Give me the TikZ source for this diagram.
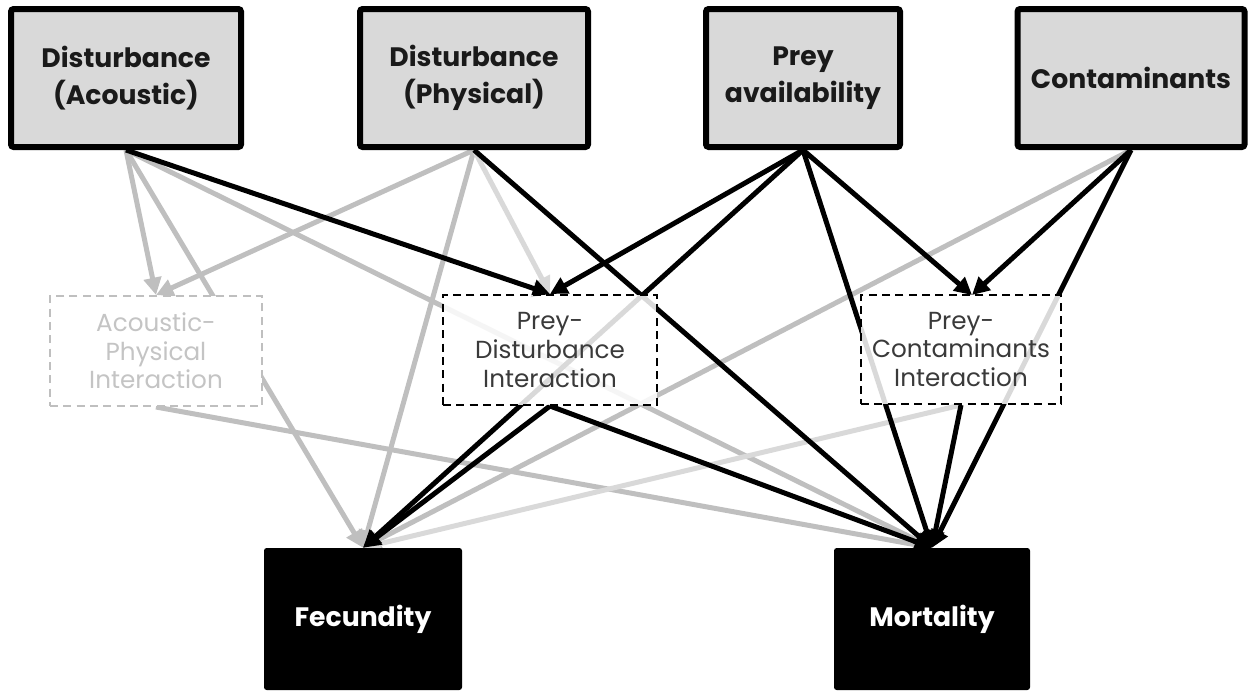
\documentclass[tikz,border=0pt]{standalone}
\usepackage{fontspec}
\setmainfont{Poppins}
\usetikzlibrary{arrows.meta,backgrounds}
\definecolor{boxgray}{HTML}{D9D9D9}
\definecolor{eg}{HTML}{BFBFBF}
\definecolor{elg}{HTML}{D9D9D9}
\definecolor{txt}{HTML}{1A1A1A}
\definecolor{itxt}{HTML}{3A3A3A}
\definecolor{atxt}{HTML}{C4C4C4}
\begin{document}
\begin{tikzpicture}[x=0.75pt,y=-0.75pt,
  topbox/.style={draw=black, line width=4.5pt, fill=boxgray, rounded corners=2pt,
    minimum height=103.5pt, align=center, inner sep=0pt, text=txt,
    font=\fontsize{20}{27.75}\selectfont\bfseries},
  intbox/.style={line width=1.5pt, dash pattern=on 6pt off 4pt, align=center,
    inner sep=0pt, minimum height=82.5pt, font=\fontsize{18.5}{21.5}\selectfont},
  outbox/.style={fill=black, rounded corners=2pt, minimum height=106.5pt,
    inner sep=0pt, text=white, font=\fontsize{20}{27}\selectfont\bfseries},
  tip/.style={-{Triangle[length=13pt,width=13pt]}},
  eblack/.style={tip, line width=3.75pt, draw=black},
  egray/.style={tip, line width=3.75pt, draw=eg},
  elight/.style={tip, line width=3.75pt, draw=elg}]
\useasboundingbox (0,0) rectangle (1252,690);

% top row
\node[topbox, minimum width=172.5pt] (DA) at (126,78) {Disturbance\\(Acoustic)};
\node[topbox, minimum width=171pt] (DP) at (474,78) {Disturbance\\(Physical)};
\node[topbox, minimum width=145.5pt] (PA) at (803,78) {Prey\\availability};
\node[topbox, minimum width=170.25pt] (C) at (1131,78) {Contaminants};

% interaction row
\node[intbox, draw=eg, fill=white, text=atxt, minimum width=159pt] (API) at (156,351)
  {Acoustic-\\Physical\\Interaction};
\node[intbox, draw=black, fill=white, fill opacity=0.85, text opacity=1, text=itxt,
  minimum width=160.5pt] (PDI) at (550,350) {Prey-\\Disturbance\\Interaction};
\node[intbox, draw=black, fill=white, fill opacity=0.85, text opacity=1, text=itxt,
  minimum width=150pt, minimum height=81.75pt] (PCI) at (961,349.5)
  {Prey-\\Contaminants\\Interaction};
\coordinate (PCIin) at (972,295);

% outcomes
\node[outbox, minimum width=148.5pt] (F) at (363,619) {Fecundity};
\node[outbox, minimum width=147pt] (M) at (932,619) {Mortality};

\begin{pgfonlayer}{background}
  % gray connectors
  \draw[egray] (DA.south) -- (API.north);
  \draw[egray] (DA.south) -- (F.north);
  \draw[egray] (DA.south) -- (M.north);
  \draw[egray] (DP.south) -- (API.north);
  \draw[egray] (DP.south) -- (F.north);
  \draw[egray] (C.south) -- (F.north);
  \draw[egray] (API.south) -- (M.north);
  \draw[elight] (DP.south) -- (PDI.north);
  \draw[elight] (PCI.south) -- (F.north);
  % black connectors
  \draw[eblack] (DA.south) -- (PDI.north);
  \draw[eblack] (DP.south) -- (M.north);
  \draw[eblack] (PA.south) -- (PDI.north);
  \draw[eblack] (PA.south) -- (F.north);
  \draw[eblack] (PA.south) -- (M.north);
  \draw[eblack] (PA.south) -- (PCIin);
  \draw[eblack] (C.south) -- (PCIin);
  \draw[eblack] (C.south) -- (M.north);
  \draw[eblack] (PDI.south) -- (F.north);
  \draw[eblack] (PDI.south) -- (M.north);
  \draw[eblack] (PCI.south) -- (M.north);
\end{pgfonlayer}
\end{tikzpicture}
\end{document}
